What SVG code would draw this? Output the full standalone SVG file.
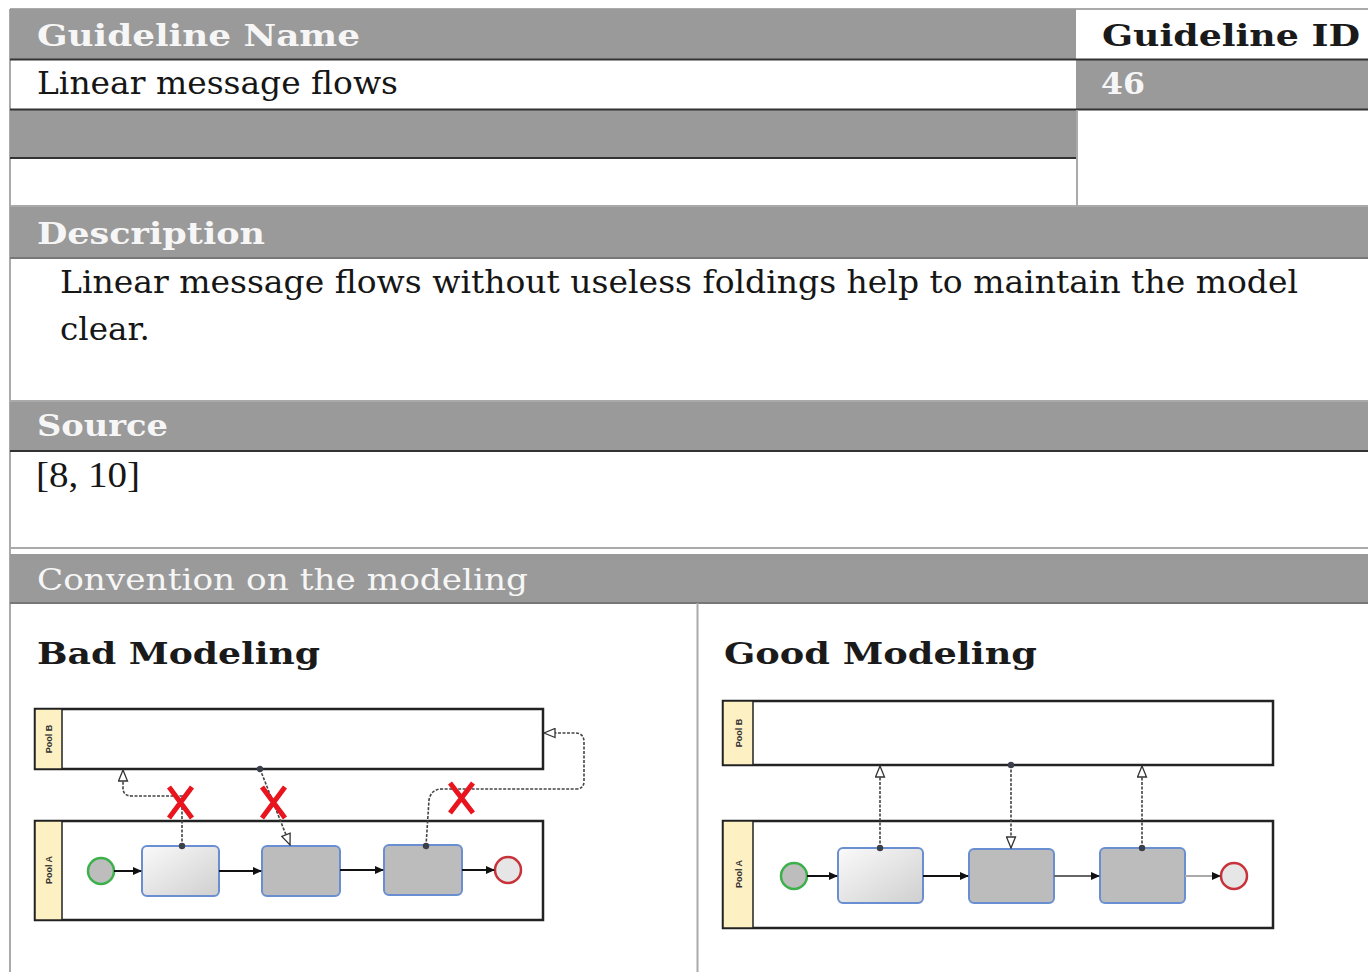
<svg xmlns="http://www.w3.org/2000/svg" width="1368" height="972" viewBox="0 0 1368 972">
<style>
.band{fill:#9a9a9a}
.dark{stroke:#333;stroke-width:2}
.mid{stroke:#777;stroke-width:2}
.light{stroke:#aaa;stroke-width:2}
.hdr{font-family:"DejaVu Serif",serif;font-weight:bold;font-size:30px;fill:#f6f6f6}
.hdrd{font-family:"DejaVu Serif",serif;font-weight:bold;font-size:30px;fill:#1a1a1a}
.body{font-family:"DejaVu Serif",serif;font-size:31px;fill:#161616}
.conv{font-family:"DejaVu Serif",serif;font-size:30px;fill:#f6f6f6}
.src{font-family:"Liberation Serif",serif;font-size:36px;fill:#161616}
.pool{fill:#fff;stroke:#222;stroke-width:2.5}
.strip{fill:#fdf0c2;stroke:#222;stroke-width:1.5}
.plab{font-family:"Liberation Sans",Arial,sans-serif;font-weight:bold;font-size:9px;fill:#333;text-anchor:middle}
.task1{fill:url(#g1);stroke:#6a8ed2;stroke-width:2}
.task2{fill:#bcbcbc;stroke:#6a8ed2;stroke-width:2}
.start{fill:#bdbdbd;stroke:#3cb04a;stroke-width:2.5}
.end{fill:#e6e6e6;stroke:#c8323a;stroke-width:2.5}
.seq{stroke:#111;stroke-width:2;fill:none;marker-end:url(#seqA)}
.msg{stroke:#444;stroke-width:1.6;stroke-dasharray:3 1.5;fill:none;marker-start:url(#dot);marker-end:url(#msgA)}
.x{stroke:#e8141e;stroke-width:5;stroke-linecap:butt}
</style>
<defs>
<linearGradient id="g1" x1="0" y1="0" x2="1" y2="1">
<stop offset="0" stop-color="#fafafa"/><stop offset="1" stop-color="#cfcfcf"/>
</linearGradient>
<marker id="seqA" markerWidth="9" markerHeight="9" refX="8" refY="4.5" orient="auto" markerUnits="userSpaceOnUse"><path d="M0,0.5 L9,4.5 L0,8.5 z" fill="#111"/></marker>
<marker id="msgA" markerWidth="13" markerHeight="11" refX="12" refY="5.5" orient="auto" markerUnits="userSpaceOnUse"><path d="M1,1 L12,5.5 L1,10 z" fill="#fff" stroke="#333" stroke-width="1.3"/></marker>
<marker id="dot" markerWidth="8" markerHeight="8" refX="4" refY="4" orient="auto" markerUnits="userSpaceOnUse"><circle cx="4" cy="4" r="3.2" fill="#3a3f4a"/></marker>
</defs>

<g id="table">
<line x1="10" y1="9" x2="1368" y2="9" class="light"/>
<line x1="10" y1="9" x2="10" y2="972" class="light"/>
<rect class="band" x="10" y="9" width="1066" height="50"/>
<rect class="band" x="1076" y="60" width="292" height="49"/>
<rect class="band" x="10" y="110" width="1066" height="47"/>
<line x1="10" y1="59.5" x2="1368" y2="59.5" class="dark"/>
<line x1="10" y1="109.5" x2="1368" y2="109.5" class="dark"/>
<line x1="10" y1="158" x2="1076" y2="158" class="dark"/>
<line x1="1077" y1="110" x2="1077" y2="206" class="light"/>
<line x1="10" y1="206" x2="1368" y2="206" class="light"/>
<rect class="band" x="10" y="207" width="1358" height="50"/>
<line x1="10" y1="258" x2="1368" y2="258" class="mid"/>
<line x1="10" y1="401" x2="1368" y2="401" class="light"/>
<rect class="band" x="10" y="402" width="1358" height="48"/>
<line x1="10" y1="451" x2="1368" y2="451" class="dark"/>
<line x1="10" y1="548" x2="1368" y2="548" class="light"/>
<rect class="band" x="10" y="554" width="1358" height="48"/>
<line x1="10" y1="603" x2="1368" y2="603" class="mid"/>
<line x1="697.5" y1="603" x2="697.5" y2="972" class="light"/>
</g>

<g id="texts">
<text class="hdr" x="37" y="46" textLength="323" lengthAdjust="spacingAndGlyphs">Guideline Name</text>
<text class="hdrd" x="1102" y="46" textLength="258" lengthAdjust="spacingAndGlyphs">Guideline ID</text>
<text class="body" x="37" y="94" textLength="361" lengthAdjust="spacingAndGlyphs">Linear message flows</text>
<text class="hdr" x="1101" y="94" textLength="44" lengthAdjust="spacingAndGlyphs">46</text>
<text class="hdr" x="37" y="244" textLength="228" lengthAdjust="spacingAndGlyphs">Description</text>
<text class="body" x="60" y="293" textLength="1238" lengthAdjust="spacingAndGlyphs">Linear message flows without useless foldings help to maintain the model</text>
<text class="body" x="60" y="340" textLength="90" lengthAdjust="spacingAndGlyphs">clear.</text>
<text class="hdr" x="37" y="436" textLength="131" lengthAdjust="spacingAndGlyphs">Source</text>
<text class="src" x="36" y="487" textLength="104" lengthAdjust="spacingAndGlyphs">[8, 10]</text>
<text class="conv" x="37" y="590" textLength="491" lengthAdjust="spacingAndGlyphs">Convention on the modeling</text>
<text class="hdrd" x="37" y="664" textLength="283" lengthAdjust="spacingAndGlyphs">Bad Modeling</text>
<text class="hdrd" x="724" y="664" textLength="313" lengthAdjust="spacingAndGlyphs">Good Modeling</text>
</g>

<g id="bad-poolB">
<rect class="pool" x="35" y="709" width="508" height="60"/>
<rect class="strip" x="35" y="709" width="27" height="60"/>
<text class="plab" transform="translate(51.5,739) rotate(-90)">Pool B</text>
</g>
<g id="bad-poolA">
<rect class="pool" x="35" y="821" width="508" height="99"/>
<rect class="strip" x="35" y="821" width="27" height="99"/>
<text class="plab" transform="translate(51.5,870) rotate(-90)">Pool A</text>
</g>
<g id="bad-start"><circle class="start" cx="101" cy="871" r="13"/></g>
<g id="bad-task1"><rect class="task1" x="142" y="846" width="77" height="50" rx="5"/></g>
<g id="bad-task2"><rect class="task2" x="262" y="846" width="78" height="50" rx="5"/></g>
<g id="bad-task3"><rect class="task2" x="384" y="845" width="78" height="50" rx="5"/></g>
<g id="bad-end"><circle class="end" cx="508" cy="870" r="13"/></g>

<g id="good-poolB">
<rect class="pool" x="723" y="701" width="550" height="64"/>
<rect class="strip" x="723" y="701" width="30" height="64"/>
<text class="plab" transform="translate(741.5,733) rotate(-90)">Pool B</text>
</g>
<g id="good-poolA">
<rect class="pool" x="723" y="821" width="550" height="107"/>
<rect class="strip" x="723" y="821" width="30" height="107"/>
<text class="plab" transform="translate(741.5,874) rotate(-90)">Pool A</text>
</g>
<g id="good-start"><circle class="start" cx="794" cy="876" r="13"/></g>
<g id="good-task1"><rect class="task1" x="838" y="848" width="85" height="55" rx="5"/></g>
<g id="good-task2"><rect class="task2" x="969" y="849" width="85" height="54" rx="5"/></g>
<g id="good-task3"><rect class="task2" x="1100" y="848" width="85" height="55" rx="5"/></g>
<g id="good-end"><circle class="end" cx="1234" cy="876" r="13"/></g>

<g id="connectors">
<line class="seq" x1="114" y1="871" x2="141" y2="871"/>
<line class="seq" x1="219" y1="871" x2="261" y2="871"/>
<line class="seq" x1="340" y1="870" x2="383" y2="870"/>
<line class="seq" x1="462" y1="870" x2="494" y2="870"/>
<path class="msg" d="M182,846 L182,796 L132,796 Q123,796 123,788 L123,770"/>
<path class="msg" d="M260,769 L290,845"/>
<path class="msg" d="M426,846 L429,800 Q431,789 442,789 L576,789 Q584,789 584,781 L584,742 Q584,733 575,733 L544,733"/>
<line class="seq" x1="807" y1="876" x2="837" y2="876"/>
<line class="seq" x1="923" y1="876" x2="968" y2="876"/>
<line class="seq" x1="1054" y1="876" x2="1099" y2="876" style="stroke:#666"/>
<line class="seq" x1="1185" y1="876" x2="1220" y2="876" style="stroke:#aaa"/>
<path class="msg" d="M880,848 L880,766"/>
<path class="msg" d="M1011,765 L1011,848"/>
<path class="msg" d="M1142,848 L1142,766"/>
</g>

<g id="marks">
<path class="x" d="M169,787 L192,818 M192,787 L169,818"/>
<path class="x" d="M262,787 L285,818 M285,787 L262,818"/>
<path class="x" d="M450,783 L473,813 M473,783 L450,813"/>
</g>
</svg>
